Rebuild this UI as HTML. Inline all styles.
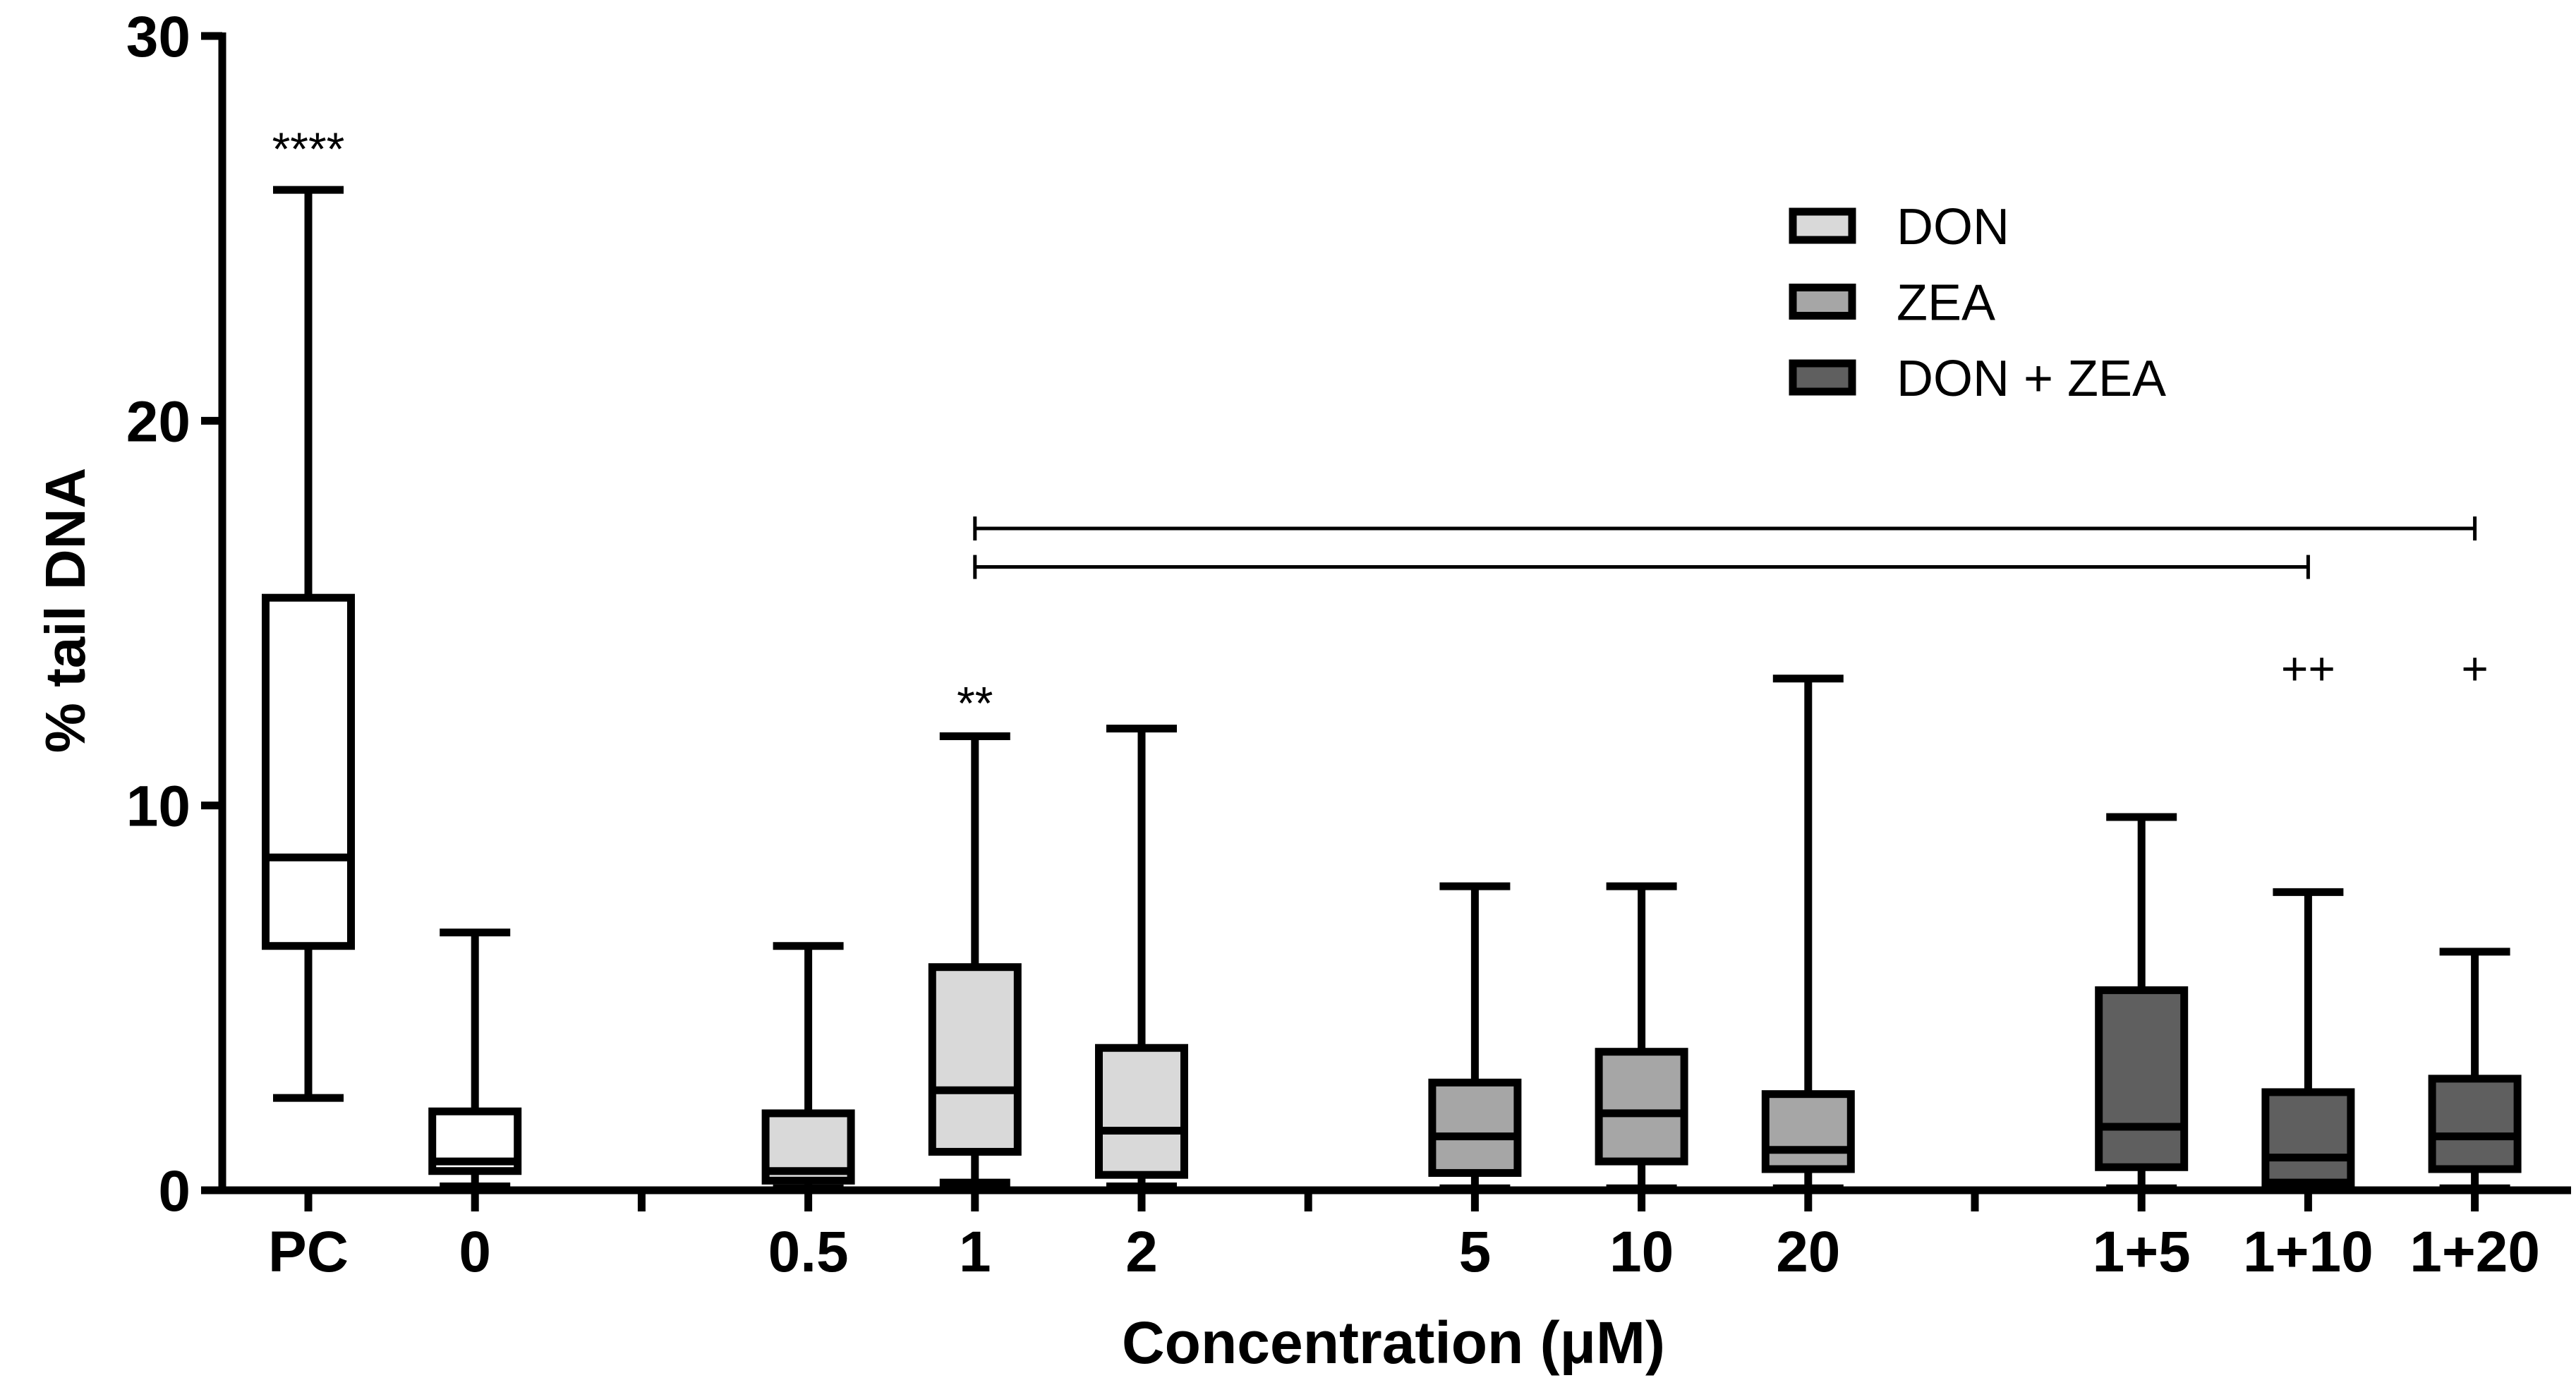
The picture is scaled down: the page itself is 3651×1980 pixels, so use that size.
<!DOCTYPE html>
<html><head><meta charset="utf-8"><style>
html,body{margin:0;padding:0;background:#fff;}
svg{display:block;font-family:"Liberation Sans",Arial,sans-serif;}
</style></head><body>
<svg id="chart" width="3651" height="1980" viewBox="0 0 3651 1980"></svg>
<script>
const categories=["PC","0","0.5","1","2","5","10","20","1+5","1+10","1+20"];
const slots=[0,1,3,4,5,7,8,9,11,12,13];
const groups=["PC","ctrl","DON","DON","DON","ZEA","ZEA","ZEA","MIX","MIX","MIX"];
const whiskerHigh=[26.0,6.7,6.35,11.8,12.0,7.9,7.9,13.3,9.7,7.75,6.2];
const q3=[15.4,2.05,2.0,5.8,3.7,2.8,3.6,2.5,5.2,2.55,2.9];
const median=[8.65,0.75,0.5,2.6,1.55,1.4,2.0,1.05,1.65,0.85,1.4];
const q1=[6.35,0.5,0.25,1.0,0.4,0.45,0.75,0.55,0.6,0.2,0.55];
const whiskerLow=[2.4,0.1,0.05,0.2,0.1,0.05,0.05,0.05,0.05,0.05,0.05];
const yTicks=[0,10,20,30];
const sepSlots=[2,6,10];
const legendLabels=["DON","ZEA","DON + ZEA"];
const annotations=[{cat:"PC",text:"****",v:27.3},{cat:"1",text:"**",v:12.9},{cat:"1+10",text:"++",v:13.8},{cat:"1+20",text:"+",v:13.8}];
const brackets=[{from:"1",to:"1+20",v:17.2},{from:"1",to:"1+10",v:16.2}];

const fills={PC:"#ffffff",ctrl:"#ffffff",DON:"#d9d9d9",ZEA:"#a6a6a6",MIX:"#5f5f5f"};
const NS="http://www.w3.org/2000/svg";
const svg=document.getElementById("chart");
const X0=315,XEND=3644,Y0=1687,YTOP=51,VMAX=30;
const y=v=>Y0-(v/VMAX)*(Y0-YTOP);
const sx=s=>437+s*236.2;
const xc=c=>sx(slots[categories.indexOf(c)]);
function el(tag,attrs,parent){const e=document.createElementNS(NS,tag);for(const k in attrs)e.setAttribute(k,attrs[k]);(parent||svg).appendChild(e);return e;}
const LW=11,BW=121,CAP=100;

let a=el("line",{x1:X0,y1:YTOP-5,x2:X0,y2:Y0+5,stroke:"#000","stroke-width":LW});


a=el("line",{x1:X0-5,y1:Y0,x2:XEND,y2:Y0,stroke:"#000","stroke-width":LW});


yTicks.forEach(t=>{
  const l=el("line",{x1:285,y1:y(t),x2:X0,y2:y(t),stroke:"#000","stroke-width":LW});
  
  
  const tx=el("text",{x:270,y:y(t)+29,"text-anchor":"end","font-size":82,"font-weight":"bold"});
  tx.textContent=t;
  
  
});
sepSlots.forEach(s=>{
  const l=el("line",{x1:sx(s),y1:Y0,x2:sx(s),y2:Y0+30,stroke:"#000","stroke-width":LW});
  
  
});
let t=el("text",{x:0,y:0,"text-anchor":"middle","font-size":80,"font-weight":"bold",transform:"translate(120,865) rotate(-90)"});
t.textContent="% tail DNA";


t=el("text",{x:1975,y:1932,"text-anchor":"middle","font-size":84,"font-weight":"bold"});
t.textContent="Concentration (\u03bcM)";



categories.forEach((c,i)=>{
  const cx=sx(slots[i]);
  const g=el("g",{});
  
  
  el("line",{x1:cx,y1:y(whiskerHigh[i]),x2:cx,y2:y(whiskerLow[i]),stroke:"#000","stroke-width":LW},g);
  el("line",{x1:cx-CAP/2,y1:y(whiskerHigh[i]),x2:cx+CAP/2,y2:y(whiskerHigh[i]),stroke:"#000","stroke-width":LW},g);
  el("line",{x1:cx-CAP/2,y1:y(whiskerLow[i]),x2:cx+CAP/2,y2:y(whiskerLow[i]),stroke:"#000","stroke-width":LW},g);
  el("rect",{x:cx-BW/2,y:y(q3[i]),width:BW,height:y(q1[i])-y(q3[i]),fill:fills[groups[i]],stroke:"#000","stroke-width":LW},g);
  el("line",{x1:cx-BW/2,y1:y(median[i]),x2:cx+BW/2,y2:y(median[i]),stroke:"#000","stroke-width":LW},g);
  const tk=el("line",{x1:cx,y1:Y0,x2:cx,y2:Y0+30,stroke:"#000","stroke-width":LW});
  
  
  const lb=el("text",{x:cx,y:1802,"text-anchor":"middle","font-size":82,"font-weight":"bold"});
  lb.textContent=c;
  
  
});

annotations.forEach(an=>{
  const tx=el("text",{x:xc(an.cat),y:y(an.v)+36,"text-anchor":"middle","font-size":66});
  tx.textContent=an.text;
  
  
});
brackets.forEach(b=>{
  const g=el("g",{stroke:"#000","stroke-width":5});
  
  
  const x1=xc(b.from),x2=xc(b.to),yy=y(b.v);
  el("line",{x1:x1,y1:yy,x2:x2,y2:yy},g);
  el("line",{x1:x1,y1:yy-17,x2:x1,y2:yy+17},g);
  el("line",{x1:x2,y1:yy-17,x2:x2,y2:yy+17},g);
});

const legFills=[fills.DON,fills.ZEA,fills.MIX];
legendLabels.forEach((lab,i)=>{
  const g=el("g",{});
  
  
  const yy=320+i*107.5;
  el("rect",{x:2541,y:yy-20,width:84,height:40,fill:legFills[i],stroke:"#000","stroke-width":11},g);
  const tx=el("text",{x:2688,y:yy+26,"font-size":72},g);
  tx.textContent=lab;
});
</script>
</body></html>
